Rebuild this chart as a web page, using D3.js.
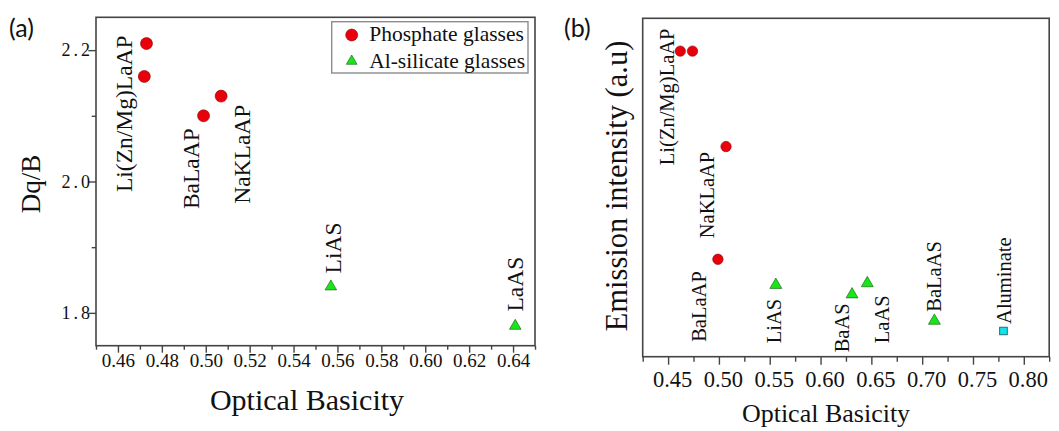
<!DOCTYPE html>
<html>
<head>
<meta charset="utf-8">
<script src="https://cdn.jsdelivr.net/npm/d3@7"></script>
<style>
  body { margin: 0; background: #fff; }
  svg { display: block; }
  text.serif { font-family: "Liberation Serif", "Times New Roman", Times, serif; fill: #111; }
</style>
</head>
<body>
<svg id="chart" width="1059" height="431"></svg>
<script>
// ---------- Panel (a): Dq/B versus optical basicity ----------
const phosA_basicity = [0.473, 0.472, 0.499, 0.507];
const phosA_dqb      = [2.21, 2.16, 2.10, 2.13];
const silA_basicity  = [0.557, 0.641];
const silA_dqb       = [1.84, 1.78];
const xTicksA = [0.46, 0.48, 0.50, 0.52, 0.54, 0.56, 0.58, 0.60, 0.62, 0.64];
const yTicksA = [1.8, 2.0, 2.2];
const legendA = ["Phosphate glasses", "Al-silicate glasses"];
// glass names, anchored (bottom of rotated text) in data units
const namesA   = ["Li(Zn/Mg)LaAP", "BaLaAP", "NaKLaAP", "LiAS", "LaAS"];
const nameXA   = [0.4663, 0.4967, 0.5202, 0.5615, 0.6445];
const nameYA   = [1.984, 1.958, 1.966, 1.860, 1.802];

// ---------- Panel (b): emission intensity versus optical basicity ----------
const phosB_basicity = [0.462, 0.474, 0.507, 0.499];
const phosB_intens   = [90.3, 90.3, 62.1, 28.8];
const silB_basicity  = [0.556, 0.631, 0.646, 0.712];
const silB_intens    = [21.2, 18.4, 21.7, 10.6];
const aluB_basicity  = [0.780];
const aluB_intens    = [7.6];
const xTicksB = [0.45, 0.50, 0.55, 0.60, 0.65, 0.70, 0.75, 0.80];
const namesB = ["Li(Zn/Mg)LaAP", "NaKLaAP", "BaLaAP", "LiAS", "BaAS", "LaAS", "BaLaAS", "Aluminate"];
const nameXB = [0.4562, 0.4949, 0.4874, 0.5612, 0.6284, 0.6671, 0.7187, 0.7876];
const nameYB = [56.6, 35.0, 4.4, 4.0, 1.3, 4.0, 13.3, 9.7];

const RED = "#e8000b", RED_EDGE = "#8a0000";
const GREEN = "#19e619", GREEN_EDGE = "#0a5a0a";
const CYAN = "#13e3ea", CYAN_EDGE = "#1f4f55";

const svg = d3.select("#chart");

function frame(g, w, h) {
  g.append("rect").attr("x", 0).attr("y", 0).attr("width", w).attr("height", h)
    .attr("fill", "none").attr("stroke", "#444").attr("stroke-width", 1.6);
}
function styleAxis(sel) {
  sel.select(".domain").remove();
  sel.selectAll(".tick line").attr("stroke", "#444").attr("stroke-width", 1.4);
  sel.selectAll(".tick text").attr("class", "serif");
}
function serifText(parent) {
  return parent.append("text").attr("class", "serif");
}
function rotatedLabel(g, x, y, txt, size) {
  serifText(g)
    .attr("transform", `translate(${x},${y}) rotate(-90)`)
    .attr("text-anchor", "start")
    .attr("font-size", size)
    .text(txt);
}

// ================= Panel (a) =================
{
  const L = 96, T = 17.3, R = 535, B = 345.7;
  const W = R - L, H = B - T;
  const g = svg.append("g").attr("transform", `translate(${L},${T})`);
  const x = d3.scaleLinear().domain([0.45, 0.65]).range([0, W]);
  const y = d3.scaleLinear().domain([1.75, 2.25]).range([H, 0]);

  // minor ticks
  const minorX = d3.range(0, 11).map(i => 0.45 + i * 0.02);
  g.append("g").attr("transform", `translate(0,${H})`)
    .call(d3.axisBottom(x).tickValues(minorX).tickSize(4).tickFormat(""))
    .call(styleAxis);
  g.append("g")
    .call(d3.axisLeft(y).tickValues([1.9, 2.1]).tickSize(4.3).tickFormat(""))
    .call(styleAxis);

  // major ticks
  const ax = g.append("g").attr("transform", `translate(0,${H})`)
    .call(d3.axisBottom(x).tickValues(xTicksA).tickSize(7).tickFormat(d3.format(".2f")))
    .call(styleAxis);
  ax.selectAll(".tick text").attr("y", 7.6).attr("font-size", 19);

  const ay = g.append("g")
    .call(d3.axisLeft(y).tickValues(yTicksA).tickSize(7.7).tickFormat(d3.format(".1f")))
    .call(styleAxis);
  ay.selectAll(".tick text").attr("x", -3).attr("font-size", 18)
    .attr("letter-spacing", 3);

  frame(g, W, H);

  // phosphate glasses
  g.selectAll("circle.phos").data(phosA_basicity.map((b, i) => [b, phosA_dqb[i]]))
    .join("circle").attr("class", "phos")
    .attr("cx", d => x(d[0])).attr("cy", d => y(d[1])).attr("r", 6)
    .attr("fill", RED).attr("stroke", RED_EDGE).attr("stroke-width", 0.6);

  // Al-silicate glasses
  const tri = d3.symbol(d3.symbolTriangle, 58);
  g.selectAll("path.sil").data(silA_basicity.map((b, i) => [b, silA_dqb[i]]))
    .join("path").attr("class", "sil")
    .attr("d", tri)
    .attr("transform", d => `translate(${x(d[0])},${y(d[1])})`)
    .attr("fill", GREEN).attr("stroke", GREEN_EDGE).attr("stroke-width", 0.6);

  namesA.forEach((n, i) => rotatedLabel(g, x(nameXA[i]), y(nameYA[i]), n, 23.5));

  // legend
  const lg = g.append("g").attr("transform", `translate(${331.7 - L},${21.7 - T})`);
  lg.append("rect").attr("width", 196.3).attr("height", 51.3)
    .attr("fill", "#fff").attr("stroke", "#8c8c8c").attr("stroke-width", 1.4);
  lg.append("circle").attr("cx", 20).attr("cy", 13.3).attr("r", 6)
    .attr("fill", RED).attr("stroke", RED_EDGE).attr("stroke-width", 0.6);
  lg.append("path").attr("d", d3.symbol(d3.symbolTriangle, 50)())
    .attr("transform", "translate(20,39.5)")
    .attr("fill", GREEN).attr("stroke", GREEN_EDGE).attr("stroke-width", 0.6);
  legendA.forEach((t, i) => serifText(lg).attr("x", 37.5).attr("y", 19 + i * 27)
    .attr("font-size", 21.5).text(t));

  // axis titles
  serifText(svg).attr("x", 307).attr("y", 410).attr("text-anchor", "middle")
    .attr("font-size", 30).text("Optical Basicity");
  serifText(svg).attr("transform", "translate(40,184) rotate(-90)")
    .attr("text-anchor", "middle").attr("font-size", 27).text("Dq/B");

  svg.append("text").attr("x", 9).attr("y", 37)
    .style("font-family", "Lato, 'Open Sans', sans-serif").attr("font-size", 25)
    .attr("fill", "#111").text("(a)");
}

// ================= Panel (b) =================
{
  const L = 642.7, T = 18.3, R = 1049.2, B = 356.7;
  const W = R - L, H = B - T;
  const g = svg.append("g").attr("transform", `translate(${L},${T})`);
  const x = d3.scaleLinear().domain([0.425, 0.825]).range([0, W]);
  const y = d3.scaleLinear().domain([0, 100]).range([H, 0]);

  const minorX = d3.range(0, 9).map(i => 0.425 + i * 0.05);
  g.append("g").attr("transform", `translate(0,${H})`)
    .call(d3.axisBottom(x).tickValues(minorX).tickSize(5).tickFormat(""))
    .call(styleAxis);
  const ax = g.append("g").attr("transform", `translate(0,${H})`)
    .call(d3.axisBottom(x).tickValues(xTicksB).tickSize(8).tickFormat(d3.format(".2f")))
    .call(styleAxis);
  ax.selectAll(".tick text").attr("y", 14.4).attr("dx", 4).attr("font-size", 22.5);

  frame(g, W, H);

  g.selectAll("circle.phos").data(phosB_basicity.map((b, i) => [b, phosB_intens[i]]))
    .join("circle").attr("class", "phos")
    .attr("cx", d => x(d[0])).attr("cy", d => y(d[1])).attr("r", 5.2)
    .attr("fill", RED).attr("stroke", RED_EDGE).attr("stroke-width", 0.6);

  const tri = d3.symbol(d3.symbolTriangle, 62);
  g.selectAll("path.sil").data(silB_basicity.map((b, i) => [b, silB_intens[i]]))
    .join("path").attr("class", "sil")
    .attr("d", tri)
    .attr("transform", d => `translate(${x(d[0])},${y(d[1])})`)
    .attr("fill", GREEN).attr("stroke", GREEN_EDGE).attr("stroke-width", 0.6);

  g.selectAll("rect.alu").data(aluB_basicity.map((b, i) => [b, aluB_intens[i]]))
    .join("rect").attr("class", "alu")
    .attr("x", d => x(d[0]) - 3.8).attr("y", d => y(d[1]) - 3.8)
    .attr("width", 7.6).attr("height", 7.6)
    .attr("fill", CYAN).attr("stroke", CYAN_EDGE).attr("stroke-width", 0.8);

  namesB.forEach((n, i) => rotatedLabel(g, x(nameXB[i]), y(nameYB[i]), n, 20.5));

  serifText(svg).attr("x", 826).attr("y", 421.5).attr("text-anchor", "middle")
    .attr("font-size", 26).text("Optical Basicity");
  serifText(svg).attr("transform", "translate(627,186) rotate(-90)")
    .attr("text-anchor", "middle").attr("font-size", 30.5).text("Emission intensity (a.u)");

  svg.append("text").attr("x", 564).attr("y", 37)
    .style("font-family", "Lato, 'Open Sans', sans-serif").attr("font-size", 25)
    .attr("fill", "#111").text("(b)");
}
</script>
</body>
</html>
